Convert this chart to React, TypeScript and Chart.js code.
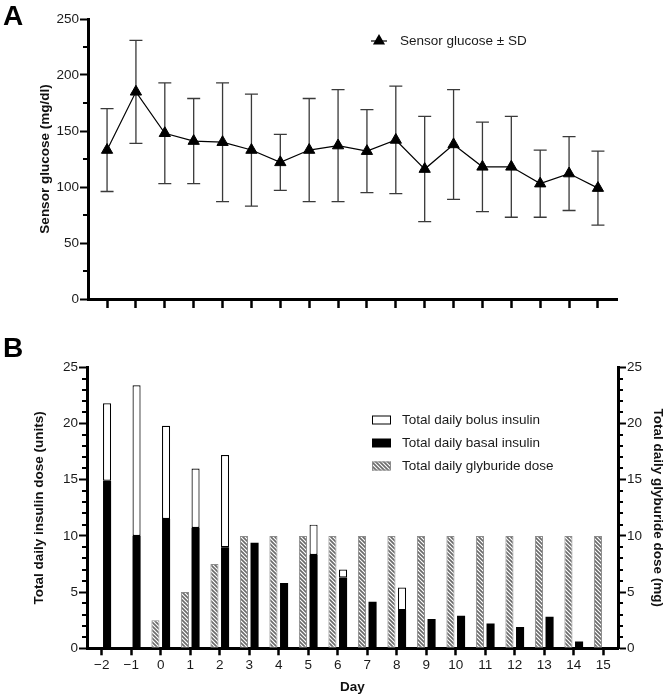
import React, { useEffect, useRef } from 'react';
import { Chart, registerables } from 'chart.js';

Chart.register(...registerables);

const FONT = '"Liberation Sans", Arial, Helvetica, sans-serif';

// ---------- data ----------
const days = [-2, -1, 0, 1, 2, 3, 4, 5, 6, 7, 8, 9, 10, 11, 12, 13, 14, 15];
const dayLabels = ['\u22122', '\u22121', '0', '1', '2', '3', '4', '5', '6', '7', '8', '9', '10', '11', '12', '13', '14', '15'];

const glucoseMean = [133, 185, 148, 141, 140, 133, 122, 133, 137, 132, 142, 116, 138, 118, 118, 103, 112, 99];
const glucoseSD = [37, 46, 45, 38, 53, 50, 25, 46, 50, 37, 48, 47, 49, 40, 45, 30, 33, 33];
const glucoseTicks = [0, 50, 100, 150, 200, 250];

const basalInsulin = [14.9, 10.0, 11.5, 10.7, 9.0, 9.4, 5.8, 8.3, 6.3, 4.15, 3.4, 2.6, 2.9, 2.2, 1.9, 2.8, 0.6, null];
const bolusInsulin = [6.9, 13.4, 8.3, 5.3, 8.2, null, null, 2.7, 0.7, null, 2.0, null, null, null, null, null, null, null];
const glyburideDose = [null, null, 2.5, 5, 7.5, 10, 10, 10, 10, 10, 10, 10, 10, 10, 10, 10, 10, 10];
const doseTicks = [0, 5, 10, 15, 20, 25];

const legendA = 'Sensor glucose \u00b1 SD';
const legendB = ['Total daily bolus insulin', 'Total daily basal insulin', 'Total daily glyburide dose'];

// ---------- helpers ----------
function makeHatch(ctx: CanvasRenderingContext2D) {
  const c = document.createElement('canvas');
  c.width = 4;
  c.height = 4;
  const g = c.getContext('2d')!;
  g.fillStyle = '#ffffff';
  g.fillRect(0, 0, 4, 4);
  g.strokeStyle = '#6a6a6a';
  g.lineWidth = 1.6;
  g.beginPath();
  g.moveTo(-1, -1); g.lineTo(5, 5);
  g.moveTo(-1, 3); g.lineTo(1, 5);
  g.moveTo(3, -1); g.lineTo(5, 1);
  g.stroke();
  return ctx.createPattern(c, 'repeat')!;
}

const minorTicksPlugin = {
  id: 'minorTicks',
  afterDraw(chart: any, _args: any, opts: any) {
    const list = (opts && opts.items) || [];
    const ctx = chart.ctx;
    ctx.save();
    ctx.strokeStyle = '#000';
    ctx.lineWidth = 2;
    for (const it of list) {
      const s = chart.scales[it.axis];
      if (!s) continue;
      for (let v = s.min; v <= s.max + 1e-9; v += it.step) {
        if (Math.abs(v / it.major - Math.round(v / it.major)) < 1e-9) continue;
        const y = Math.round(s.getPixelForValue(v));
        ctx.beginPath();
        if (it.side === 'left') {
          ctx.moveTo(s.right, y);
          ctx.lineTo(s.right - it.len, y);
        } else {
          ctx.moveTo(s.left, y);
          ctx.lineTo(s.left + it.len, y);
        }
        ctx.stroke();
      }
    }
    ctx.restore();
  },
};

const errorBarsPlugin = {
  id: 'errorBars',
  beforeDatasetsDraw(chart: any) {
    const xs = chart.scales.x;
    const ys = chart.scales.y;
    const ctx = chart.ctx;
    ctx.save();
    ctx.strokeStyle = '#3a3a3a';
    ctx.lineWidth = 1.3;
    days.forEach((d, i) => {
      const x = xs.getPixelForValue(d);
      const top = ys.getPixelForValue(glucoseMean[i] + glucoseSD[i]);
      const bot = ys.getPixelForValue(glucoseMean[i] - glucoseSD[i]);
      ctx.beginPath();
      ctx.moveTo(x, top); ctx.lineTo(x, bot);
      ctx.moveTo(x - 6.5, top); ctx.lineTo(x + 6.5, top);
      ctx.moveTo(x - 6.5, bot); ctx.lineTo(x + 6.5, bot);
      ctx.stroke();
    });
    ctx.restore();
  },
};

const legendAPlugin = {
  id: 'legendA',
  afterDraw(chart: any) {
    const ctx = chart.ctx;
    const y = 41;
    ctx.save();
    ctx.strokeStyle = '#000';
    ctx.lineWidth = 1.2;
    ctx.beginPath();
    ctx.moveTo(371, y); ctx.lineTo(387, y);
    ctx.stroke();
    const r = 7;
    ctx.fillStyle = '#000';
    ctx.beginPath();
    ctx.moveTo(379, y - r);
    ctx.lineTo(379 + r * Math.sin((2 * Math.PI) / 3), y - r * Math.cos((2 * Math.PI) / 3));
    ctx.lineTo(379 + r * Math.sin((4 * Math.PI) / 3), y - r * Math.cos((4 * Math.PI) / 3));
    ctx.closePath();
    ctx.fill();
    ctx.font = `13.5px ${FONT}`;
    ctx.fillStyle = '#1a1a1a';
    ctx.textBaseline = 'middle';
    ctx.textAlign = 'left';
    ctx.fillText(legendA, 400, y);
    ctx.restore();
  },
};

const legendBPlugin = {
  id: 'legendB',
  afterDraw(chart: any) {
    const ctx = chart.ctx;
    const hatch = makeHatch(ctx);
    const rows = [90, 113, 136];
    ctx.save();
    rows.forEach((y, i) => {
      const bx = 372, by = y - 4.5, bw = 19, bh = 9;
      if (i === 0) {
        ctx.fillStyle = '#fff';
        ctx.fillRect(bx, by, bw, bh);
        ctx.strokeStyle = '#000';
        ctx.lineWidth = 1;
        ctx.strokeRect(bx + 0.5, by + 0.5, bw - 1, bh - 1);
      } else if (i === 1) {
        ctx.fillStyle = '#000';
        ctx.fillRect(bx, by, bw, bh);
      } else {
        ctx.fillStyle = hatch;
        ctx.fillRect(bx, by, bw, bh);
        ctx.strokeStyle = '#8c8c8c';
        ctx.lineWidth = 1;
        ctx.strokeRect(bx + 0.5, by + 0.5, bw - 1, bh - 1);
      }
      ctx.font = `13.5px ${FONT}`;
      ctx.fillStyle = '#1a1a1a';
      ctx.textBaseline = 'middle';
      ctx.textAlign = 'left';
      ctx.fillText(legendB[i], 402, y);
    });
    ctx.restore();
  },
};

const tickFont = { family: FONT, size: 13.5 };
const titleFont = { family: FONT, size: 13.5, weight: 'bold' as const };
const axisBorder = { display: true, color: '#000', width: 3 };

function GlucoseChart() {
  const ref = useRef<HTMLCanvasElement>(null);
  useEffect(() => {
    const chart = new Chart(ref.current!, {
      type: 'line',
      data: {
        datasets: [
          {
            label: legendA,
            data: days.map((d, i) => ({ x: d, y: glucoseMean[i] })),
            borderColor: '#000',
            borderWidth: 1.2,
            tension: 0,
            pointStyle: 'triangle',
            pointRadius: 6.5,
            pointBackgroundColor: '#000',
            pointBorderColor: '#000',
            pointBorderWidth: 1,
          },
        ],
      },
      options: {
        responsive: false,
        animation: false,
        devicePixelRatio: 1,
        events: [],
        layout: { padding: { left: 0, right: 50, top: 19, bottom: 0 } },
        plugins: {
          legend: { display: false },
          tooltip: { enabled: false },
          minorTicks: { items: [{ axis: 'y', step: 25, major: 50, len: 5, side: 'left' }] },
        } as any,
        scales: {
          x: {
            type: 'linear',
            min: -2.66,
            max: 15.66,
            afterBuildTicks: (s: any) => { s.ticks = days.map((v) => ({ value: v })); },
            afterFit: (s: any) => { s.height = 31; },
            ticks: { callback: () => '', font: tickFont },
            grid: { drawOnChartArea: false, drawTicks: true, tickLength: 9, tickWidth: 2.5, tickColor: '#000' },
            border: axisBorder,
          },
          y: {
            type: 'linear',
            min: 0,
            max: 250,
            afterBuildTicks: (s: any) => { s.ticks = glucoseTicks.map((v) => ({ value: v })); },
            afterFit: (s: any) => { s.width = 88; },
            ticks: { font: tickFont, color: '#1a1a1a', padding: 1 },
            grid: { drawOnChartArea: false, drawTicks: true, tickLength: 8, tickWidth: 2, tickColor: '#000' },
            border: axisBorder,
            title: {
              display: true,
              text: 'Sensor glucose (mg/dl)',
              font: titleFont,
              color: '#111',
              padding: { top: 37, bottom: 0 },
            },
          },
        },
      },
      plugins: [errorBarsPlugin, minorTicksPlugin, legendAPlugin],
    } as any);
    return () => chart.destroy();
  }, []);
  return <canvas ref={ref} width={667} height={330} style={{ display: 'block', width: 667, height: 330 }} />;
}

function DoseChart() {
  const ref = useRef<HTMLCanvasElement>(null);
  useEffect(() => {
    const canvas = ref.current!;
    const hatch = makeHatch(canvas.getContext('2d')!);
    const chart = new Chart(canvas, {
      type: 'bar',
      data: {
        labels: dayLabels,
        datasets: [
          {
            label: legendB[2],
            data: glyburideDose,
            yAxisID: 'y2',
            stack: 'g',
            backgroundColor: hatch,
            borderColor: '#8c8c8c',
            borderWidth: 1,
            borderSkipped: false,
          },
          {
            label: legendB[1],
            data: basalInsulin,
            yAxisID: 'y',
            stack: 'i',
            backgroundColor: '#000',
            borderWidth: 0,
          },
          {
            label: legendB[0],
            data: bolusInsulin,
            yAxisID: 'y',
            stack: 'i',
            backgroundColor: '#fff',
            borderColor: '#000',
            borderWidth: 1.2,
            borderSkipped: false,
          },
        ],
      },
      options: {
        responsive: false,
        animation: false,
        devicePixelRatio: 1,
        events: [],
        datasets: { bar: { categoryPercentage: 0.72, barPercentage: 0.76 } },
        layout: { padding: { left: 0, right: 0, top: 37.3, bottom: 0 } },
        plugins: {
          legend: { display: false },
          tooltip: { enabled: false },
          minorTicks: {
            items: [
              { axis: 'y', step: 1, major: 5, len: 5, side: 'left' },
              { axis: 'y2', step: 1, major: 5, len: 5, side: 'right' },
            ],
          },
        } as any,
        scales: {
          x: {
            stacked: true,
            afterFit: (s: any) => { s.height = 47.7; },
            ticks: { font: tickFont, color: '#1a1a1a', padding: 2, maxRotation: 0, autoSkip: false },
            grid: { offset: false, drawOnChartArea: false, drawTicks: true, tickLength: 7, tickWidth: 2.5, tickColor: '#000' },
            border: axisBorder,
            title: { display: true, text: 'Day', font: titleFont, color: '#111', padding: { top: 0, bottom: 1 } },
          },
          y: {
            stacked: true,
            position: 'left',
            min: 0,
            max: 25,
            afterBuildTicks: (s: any) => { s.ticks = doseTicks.map((v) => ({ value: v })); },
            afterFit: (s: any) => { s.width = 87; },
            ticks: { font: tickFont, color: '#1a1a1a', padding: 1 },
            grid: { drawOnChartArea: false, drawTicks: true, tickLength: 8, tickWidth: 2, tickColor: '#000' },
            border: axisBorder,
            title: {
              display: true,
              text: 'Total daily insulin dose (units)',
              font: titleFont,
              color: '#111',
              padding: { top: 31, bottom: 0 },
            },
          },
          y2: {
            stacked: true,
            position: 'right',
            min: 0,
            max: 25,
            afterBuildTicks: (s: any) => { s.ticks = doseTicks.map((v) => ({ value: v })); },
            afterFit: (s: any) => { s.width = 49; },
            ticks: { font: tickFont, color: '#1a1a1a', padding: 1 },
            grid: { drawOnChartArea: false, drawTicks: true, tickLength: 8, tickWidth: 2, tickColor: '#000' },
            border: axisBorder,
            title: {
              display: true,
              text: 'Total daily glyburide dose (mg)',
              font: titleFont,
              color: '#111',
              padding: { top: 1, bottom: 0 },
            },
          },
        },
      },
      plugins: [minorTicksPlugin, legendBPlugin],
    } as any);
    return () => chart.destroy();
  }, []);
  return <canvas ref={ref} width={667} height={366} style={{ display: 'block', width: 667, height: 366 }} />;
}

const letterStyle: React.CSSProperties = {
  position: 'absolute',
  left: 3,
  fontFamily: FONT,
  fontWeight: 'bold',
  fontSize: 28,
  lineHeight: 1,
  color: '#000',
};

export default function App() {
  return (
    <div style={{ position: 'absolute', left: 0, top: 0, width: 667, height: 696, background: '#fff', overflow: 'hidden' }}>
      <div style={{ position: 'absolute', left: 0, top: 0 }}>
        <GlucoseChart />
      </div>
      <div style={{ position: 'absolute', left: 0, top: 330 }}>
        <DoseChart />
      </div>
      <div style={{ ...letterStyle, top: 1.5 }}>A</div>
      <div style={{ ...letterStyle, top: 334 }}>B</div>
    </div>
  );
}
